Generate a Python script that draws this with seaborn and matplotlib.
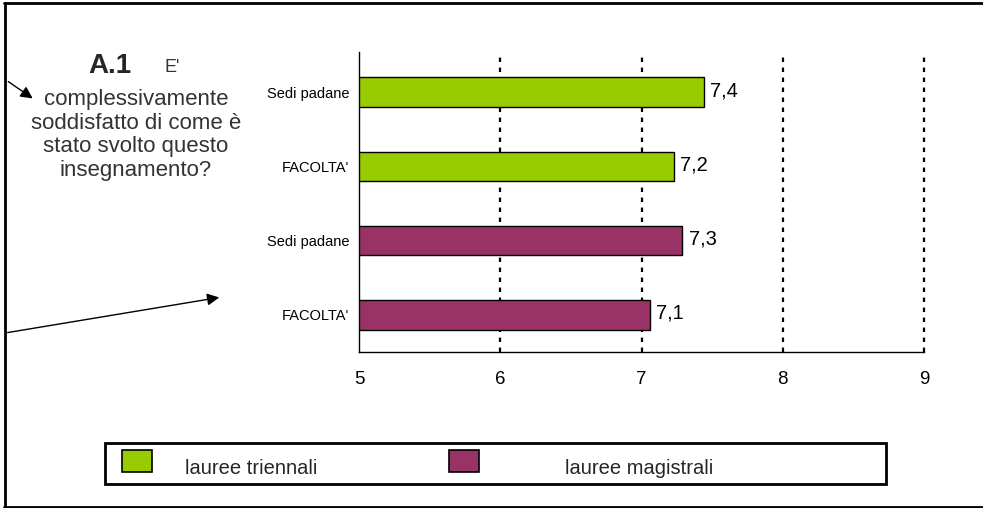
import pandas as pd
import matplotlib
matplotlib.use("Agg")
import matplotlib.pyplot as plt
import seaborn as sns
from matplotlib.patches import Rectangle, FancyArrowPatch
from matplotlib.lines import Line2D

# data
row_labels = ["Sedi padane", "FACOLTA'", "Sedi padane", "FACOLTA'"]
groups = ["lauree triennali", "lauree triennali", "lauree magistrali", "lauree magistrali"]
scores = [7.44, 7.23, 7.29, 7.06]
group_colors = {"lauree triennali": "#99CC00", "lauree magistrali": "#993366"}
x_ticks = [5, 6, 7, 8, 9]

df = pd.DataFrame({
    "row": [f"r{i}" for i in range(len(scores))],
    "label": row_labels,
    "group": groups,
    "score": scores,
})

sns.set_theme(style="white")
plt.rcParams["font.family"] = ["Liberation Sans", "DejaVu Sans"]

fig = plt.figure(figsize=(9.83, 5.08), dpi=100)
W, H = 983, 508

def px(x0, y0, x1, y1):
    return [x0 / W, 1 - y1 / H, (x1 - x0) / W, (y1 - y0) / H]

ax = fig.add_axes(px(359, 52, 924, 352))

sns.barplot(data=df, y="row", x="score", hue="group", palette=group_colors,
            dodge=False, width=0.4, edgecolor="black", linewidth=1,
            saturation=1, legend=False, ax=ax)

ax.set_xlim(5, 9)
ax.set_ylim(3.5, -0.54)
ax.set_xticks(x_ticks)
ax.set_xticklabels([str(t) for t in x_ticks], fontsize=13.5)
ax.set_yticks(range(len(row_labels)))
ax.set_yticklabels(row_labels, fontsize=10.5)
ax.set_xlabel("")
ax.set_ylabel("")
ax.tick_params(axis="x", length=0, pad=14, colors="black")
ax.tick_params(axis="y", length=0, pad=7, colors="black")
ax.xaxis.grid(True, color="black", linestyle=(0, (2, 2.5)), linewidth=1.6)
for t, gl in zip(x_ticks, ax.get_xgridlines()):
    gl.set_clip_on(False)
    if t == x_ticks[0]:
        gl.set_visible(False)
ax.yaxis.grid(False)
ax.set_axisbelow(True)
for s in ["top", "right"]:
    ax.spines[s].set_visible(False)
for s in ["left", "bottom"]:
    ax.spines[s].set_color("black")
    ax.spines[s].set_linewidth(1)

for i, v in enumerate(scores):
    ax.text(v + 0.045, i - 0.02, f"{v:.1f}".replace(".", ","), fontsize=14.5,
            va="center", ha="left", color="black")

# outer frame (left, top, bottom)
fig.add_artist(Line2D([5 / W, 5 / W], [0, 1 - 3 / H], transform=fig.transFigure, color="black", lw=2))
fig.add_artist(Line2D([4 / W, 1], [1 - 3 / H, 1 - 3 / H], transform=fig.transFigure, color="black", lw=2))
fig.add_artist(Line2D([4 / W, 1], [1 - 507 / H, 1 - 507 / H], transform=fig.transFigure, color="black", lw=2))

# question text
fig.text(110 / W, 1 - 66 / H, "A.1", fontsize=20, fontweight="bold", ha="center", va="center")
fig.text(172 / W, 1 - 67 / H, "E'", fontsize=13, ha="center", va="center", color="#333333")
fig.text(136 / W, 1 - 135 / H,
         "complessivamente\nsoddisfatto di come è\nstato svolto questo\ninsegnamento?",
         fontsize=16, ha="center", va="center", color="#333333", linespacing=1.17)

# arrows
fig.patches.append(FancyArrowPatch(
    (6 / W, 1 - 80 / H), (35 / W, 1 - 100 / H), transform=fig.transFigure,
    arrowstyle="-|>", mutation_scale=18, color="black", lw=1))
fig.patches.append(FancyArrowPatch(
    (5 / W, 1 - 333 / H), (222 / W, 1 - 297 / H), transform=fig.transFigure,
    arrowstyle="-|>", mutation_scale=18, color="black", lw=1))

# legend box
fig.add_artist(Rectangle((105 / W, 1 - 484 / H), (886 - 105) / W, (484 - 443) / H,
                         transform=fig.transFigure, fill=False, edgecolor="black", lw=2))
legend_items = [("lauree triennali", 122, 185), ("lauree magistrali", 449, 565)]
for name, sx, tx in legend_items:
    fig.add_artist(Rectangle((sx / W, 1 - 472 / H), 30 / W, 22 / H, transform=fig.transFigure,
                             facecolor=group_colors[name], edgecolor="black", lw=1.2))
    fig.text(tx / W, 1 - 468 / H, name, fontsize=14.5, ha="left", va="center")

fig.savefig("out.png", dpi=100)
